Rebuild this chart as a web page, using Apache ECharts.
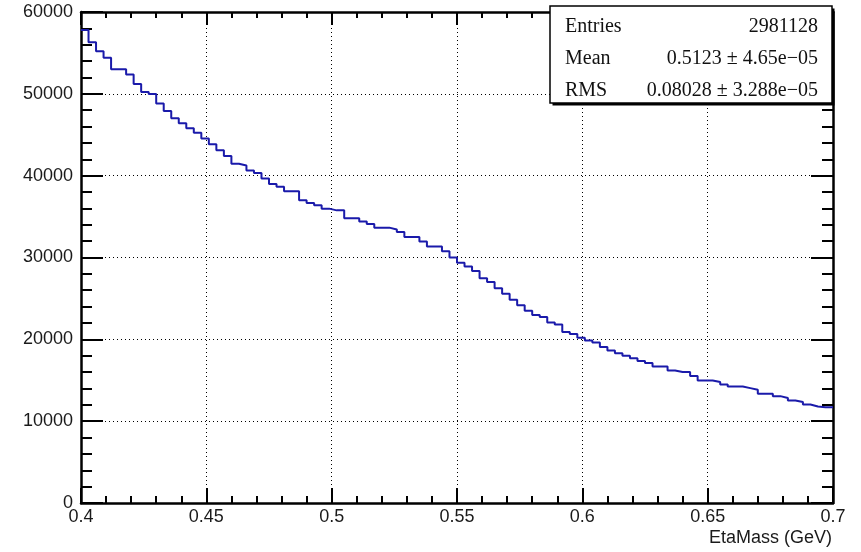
<!DOCTYPE html>
<html>
<head>
<meta charset="utf-8">
<title>EtaMass</title>
<script src="https://cdn.jsdelivr.net/npm/echarts@6/dist/echarts.min.js"></script>
<style>
  html, body { margin: 0; padding: 0; background: #fff; }
  #chart { width: 861px; height: 552px; }
</style>
</head>
<body>
<div id="chart"></div>
<script>
// Histogram binning: 100 bins of 0.003 GeV starting at 0.4 GeV
const binLow = 0.4;
const binWidth = 0.003;

// Bin contents (entries per bin)
const counts = [
  57800, 56300, 55200, 54400, 53000, 53000, 52350, 51200, 50230, 49980,
  48820, 47900, 47030, 46420, 45800, 45250, 44550, 43850, 43100, 42400,
  41450, 41240, 40620, 40320, 39660, 38980, 38640, 38090, 38090, 37000,
  36670, 36380, 35970, 35760, 35760, 34800, 34800, 34400, 34100, 33650,
  33650, 33420, 33130, 32490, 32490, 31960, 31350, 31350, 30750, 30000,
  29350, 28900, 28350, 27450, 27000, 26250, 25560, 24850, 24150, 23500,
  22980, 22730, 22070, 21820, 20910, 20650, 20200, 19860, 19600, 19070,
  18640, 18310, 18000, 17700, 17350, 17100, 16690, 16690, 16200, 16000,
  16000, 15510, 14980, 14980, 14780, 14490, 14240, 14240, 14040, 13840,
  13350, 13350, 13060, 12820, 12530, 12330, 12040, 11800, 11710, 11710
];

// Statistics box rows
const statLabels = ['Entries', 'Mean', 'RMS'];
const statValues = ['2981128', '0.5123 \u00b1 4.65e\u221205', '0.08028 \u00b1 3.288e\u221205'];

const xTitle = 'EtaMass (GeV)';

// Step outline: one point at each bin's low edge, plus the closing upper edge
const stepPoints = counts.map((c, i) => [+(binLow + i * binWidth).toFixed(4), c]);
stepPoints.push([+(binLow + counts.length * binWidth).toFixed(4), counts[counts.length - 1]]);

const AXIS_FONT = '"Liberation Sans", Arial, sans-serif';
const STAT_FONT = '"Liberation Serif", "Times New Roman", serif';

const frameLine = { show: true, onZero: false, lineStyle: { color: '#000', width: 2.5 } };
const dotted = { show: true, lineStyle: { color: '#000', width: 1, type: [1, 3] } };

function xAxisCfg(pos, majorLen, minorLen, showLabels) {
  return {
    type: 'value', position: pos, min: 0.4, max: 0.7, interval: 0.05,
    axisLine: frameLine,
    axisTick: { show: true, inside: true, length: majorLen, lineStyle: { color: '#000', width: 2 } },
    minorTick: { show: true, splitNumber: 5, length: minorLen, lineStyle: { color: '#000', width: 2 } },
    splitLine: pos === 'bottom' ? dotted : { show: false },
    axisLabel: {
      show: showLabels, margin: 5, color: '#1a1a1a', fontSize: 18, fontFamily: AXIS_FONT,
      formatter: v => String(+v.toFixed(2))
    }
  };
}

function yAxisCfg(pos, majorLen, minorLen, showLabels) {
  return {
    type: 'value', position: pos, min: 0, max: 60000, interval: 10000,
    axisLine: frameLine,
    axisTick: { show: true, inside: true, length: majorLen, lineStyle: { color: '#000', width: 2 } },
    minorTick: { show: true, splitNumber: 5, length: minorLen, lineStyle: { color: '#000', width: 2 } },
    splitLine: pos === 'left' ? dotted : { show: false },
    axisLabel: {
      show: showLabels, margin: 8, color: '#1a1a1a', fontSize: 18, fontFamily: AXIS_FONT,
      formatter: v => String(v)
    }
  };
}

const bottomX = xAxisCfg('bottom', 15, 7, true);
bottomX.name = xTitle;
bottomX.nameLocation = 'end';
bottomX.nameGap = -1;
bottomX.nameTextStyle = {
  align: 'right', verticalAlign: 'top', padding: [26, 0, 0, 0],
  color: '#1a1a1a', fontSize: 18, fontFamily: AXIS_FONT
};

// Stats box (white panel with a drop shadow) and its text rows
const box = { x: 550, y: 6, w: 282, h: 97 };
const statGraphics = [
  { type: 'rect', z: 100, shape: { x: box.x + 2.5, y: box.y + 2.5, width: box.w, height: box.h },
    style: { fill: '#000' } },
  { type: 'rect', z: 101, shape: { x: box.x, y: box.y, width: box.w, height: box.h },
    style: { fill: '#fff', stroke: '#000', lineWidth: 1.5 } }
];
const rowY = [27, 59, 91];
statLabels.forEach((lab, i) => {
  statGraphics.push({
    type: 'text', z: 102,
    style: { text: lab, x: 565, y: rowY[i], font: '20px ' + STAT_FONT, fill: '#111',
             align: 'left', verticalAlign: 'middle' }
  });
  statGraphics.push({
    type: 'text', z: 102,
    style: { text: statValues[i], x: 818, y: rowY[i], font: '20px ' + STAT_FONT, fill: '#111',
             align: 'right', verticalAlign: 'middle' }
  });
});

const chart = echarts.init(document.getElementById('chart'), null, { renderer: 'canvas' });
chart.setOption({
  animation: false,
  backgroundColor: '#fff',
  grid: { left: 81, right: 28, top: 12, bottom: 49, containLabel: false },
  xAxis: [bottomX, xAxisCfg('top', 13, 6, false)],
  yAxis: [yAxisCfg('left', 22, 11, true), yAxisCfg('right', 22, 11, false)],
  series: [{
    type: 'line',
    step: 'end',
    xAxisIndex: 0,
    yAxisIndex: 0,
    data: stepPoints,
    symbol: 'none',
    lineStyle: { color: '#1a1aaa', width: 2 },
    z: 5
  }],
  graphic: statGraphics
});
</script>
</body>
</html>
